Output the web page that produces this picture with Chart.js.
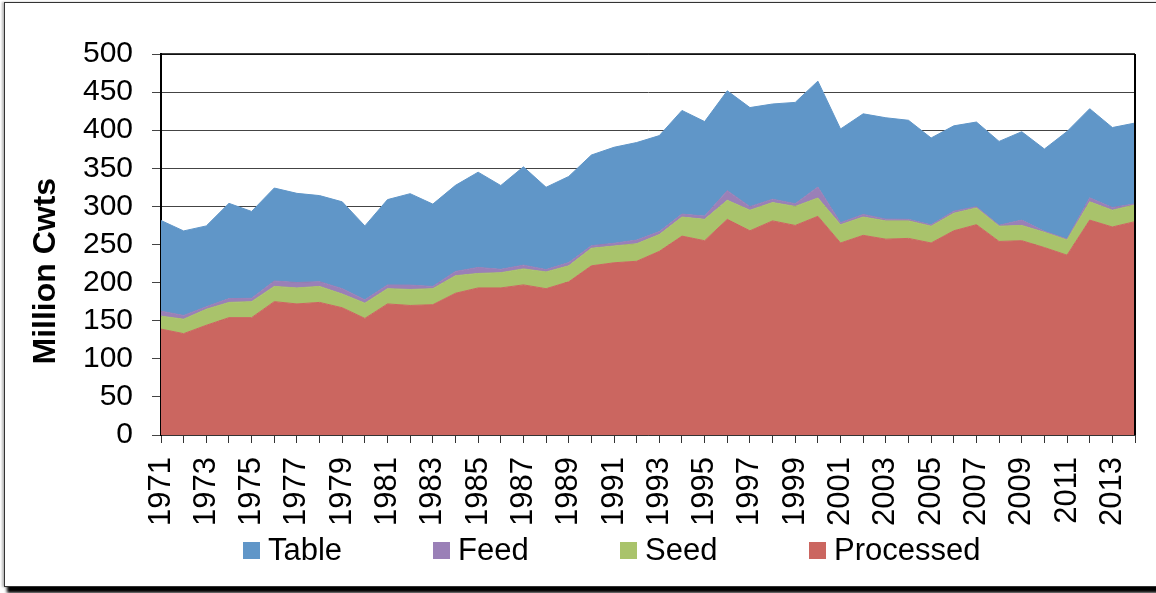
<!DOCTYPE html>
<html>
<head>
<meta charset="utf-8">
<script src="https://cdn.jsdelivr.net/npm/chart.js@4.4.1/dist/chart.umd.min.js"></script>
<style>
  html, body { margin: 0; padding: 0; background: #fff; overflow: hidden; }
  #wrap { position: relative; width: 1156px; height: 593px; }
  #frame { position: absolute; left: 4px; top: 2px; width: 1170px; height: 583px;
           border: 1px solid #333; background: #fff;
           box-shadow: 3px 6px 3px #000, -2px 0 2px #bbb; }
  #c { position: absolute; left: 0; top: 0; }
  .lg { position: absolute; top: 534px; height: 32px; display: flex; align-items: center;
        font-family: "Liberation Sans", Arial, sans-serif; font-size: 31px; color: #000; white-space: nowrap; }
  .lg span.box { display: inline-block; width: 17px; height: 17px; margin-right: 8px; }
</style>
</head>
<body>
<div id="wrap">
  <div id="frame"></div>
  <canvas id="c" width="1156" height="593"></canvas>
  <div id="legend"></div>
</div>
<script>
const years = [1971,1972,1973,1974,1975,1976,1977,1978,1979,1980,
  1981,1982,1983,1984,1985,1986,1987,1988,1989,1990,
  1991,1992,1993,1994,1995,1996,1997,1998,1999,2000,
  2001,2002,2003,2004,2005,2006,2007,2008,2009,2010,
  2011,2012,2013,2014];

const xTickLabels = ['1971','1973','1975','1977','1979','1981','1983','1985','1987','1989',
  '1991','1993','1995','1997','1999','2001','2003','2005','2007','2009','2011','2013'];

const yTicks = [0,50,100,150,200,250,300,350,400,450,500];

const processed = [139,133,144,154,154,175,172,174,167,153,
  172,170,171,186,193,193,197,192,201,222,
  226,228,241,261,255,283,268,281,275,287,
  252,262,257,258,252,268,276,254,255,246,
  236,282,273,280];

const seed = [17,19,21,20,21,20,21,21,18,20,
  20,21,21,23,19,20,21,22,21,23,
  22,23,22,25,28,25,27,24,25,24,
  24,24,24,23,22,23,22,20,20,20,
  20,24,22,22];

const feed = [6.5,4.8,3.4,5,4.4,7.1,7.1,6.2,7,4.4,
  4.9,5.7,3,5.6,7.9,4.4,4.9,3.1,4.3,3.4,
  3.6,4.8,3.9,3.9,4.3,12.7,4.7,4.4,3.5,14.4,
  2.6,3.5,2.3,2,1.8,2.7,1.7,1.3,7,1.3,
  1.3,5.2,3.5,1.4];

const table = [119,111,106,125,114,122,117,113,114,97,
  112,120,108,113,125,110,129,108,113,119,
  126,128,126,136,124,131,130,125,133,139,
  123,132,133,130,114,112,111,110,116,108,
  141,117,105,106];

const seriesNames = ['Processed','Seed','Feed','Table'];
const seriesColors = ['#CB6660','#A9C36B','#9A80B7','#6096C8'];
const seriesData = [processed, seed, feed, table];

const FONT = '"Liberation Sans", Arial, sans-serif';

const datasets = seriesData.map((d, i) => ({
  label: seriesNames[i],
  data: d,
  backgroundColor: seriesColors[i],
  borderColor: seriesColors[i],
  borderWidth: 1,
  pointRadius: 0,
  pointHoverRadius: 0,
  tension: 0,
  fill: i === 0 ? 'origin' : '-1'
}));

const frameBorder = {
  id: 'frameBorder',
  afterDatasetsDraw(chart) {
    const { ctx, chartArea: a } = chart;
    ctx.save();
    ctx.strokeStyle = '#000';
    ctx.lineWidth = 1.5;
    ctx.beginPath();
    ctx.moveTo(a.left, a.top);
    ctx.lineTo(a.right, a.top);
    ctx.stroke();
    ctx.lineWidth = 2;
    ctx.beginPath();
    ctx.moveTo(a.right, a.top);
    ctx.lineTo(a.right, a.bottom);
    ctx.stroke();
    ctx.restore();
  }
};

const chart = new Chart(document.getElementById('c'), {
  type: 'line',
  data: { labels: years.map(String), datasets },
  options: {
    responsive: false,
    animation: false,
    events: [],
    layout: { padding: { left: 0, right: 21, top: 54, bottom: 0 } },
    plugins: {
      legend: { display: false },
      tooltip: { enabled: false },
      filler: { propagate: false }
    },
    scales: {
      x: {
        offset: false,
        stacked: true,
        grid: { drawOnChartArea: false, drawTicks: true, tickLength: 8, color: '#333', lineWidth: 1 },
        border: { display: true, color: '#333', width: 1 },
        ticks: {
          autoSkip: false, maxRotation: 90, minRotation: 90, padding: 14,
          color: '#000', font: { family: FONT, size: 31 },
          callback: function(v, i) {
            const s = String(years[i]);
            return xTickLabels.includes(s) ? s : '';
          }
        },
        afterFit: (s) => { s.height = 158; s.paddingLeft = 0; s.paddingRight = 0; }
      },
      y: {
        stacked: true,
        min: 0, max: 500,
        afterBuildTicks: (s) => { s.ticks = yTicks.map(v => ({ value: v })); },
        grid: { color: '#444', lineWidth: 1, tickLength: 9, drawTicks: true },
        border: { display: true, color: '#000', width: 2 },
        ticks: { autoSkip: false, color: '#000', padding: 19, font: { family: FONT, size: 30 } },
        title: {
          display: true, text: 'Million Cwts      ', color: '#000',
          font: { family: FONT, size: 32, weight: 'bold' },
          padding: { top: 27, bottom: 0 }
        },
        afterFit: (s) => { s.width = 161; s.paddingTop = 0; s.paddingBottom = 0; }
      }
    }
  },
  plugins: [frameBorder]
});

// HTML legend built from the chart's datasets (Table, Feed, Seed, Processed)
const legendX = [243, 433, 620, 809];
const legendEl = document.getElementById('legend');
chart.data.datasets.slice().reverse().forEach((ds, i) => {
  const item = document.createElement('div');
  item.className = 'lg';
  item.style.left = legendX[i] + 'px';
  const box = document.createElement('span');
  box.className = 'box';
  box.style.background = ds.backgroundColor;
  item.appendChild(box);
  item.appendChild(document.createTextNode(ds.label));
  legendEl.appendChild(item);
});
</script>
</body>
</html>
